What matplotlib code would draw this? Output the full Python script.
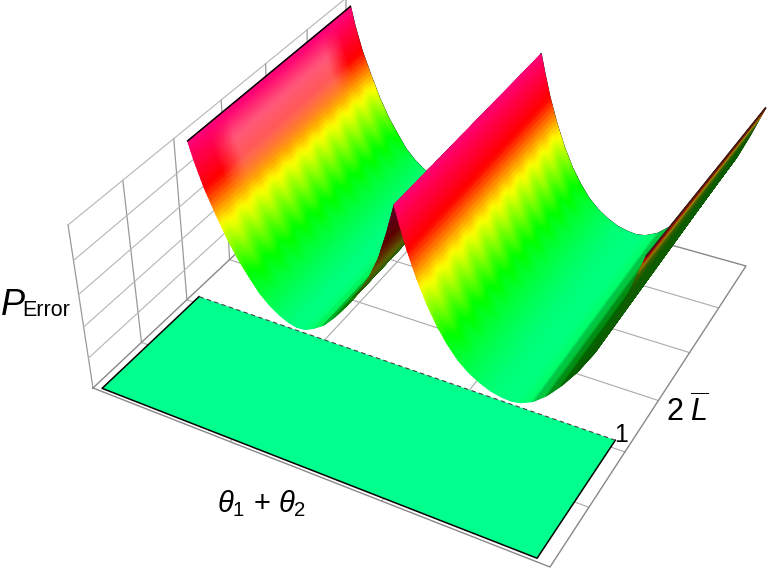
import colorsys

import matplotlib

matplotlib.use("Agg")
import matplotlib.pyplot as plt  # noqa: E402
import numpy as np  # noqa: E402

plt.rcParams["font.family"] = ["Liberation Sans", "DejaVu Sans"]
plt.rcParams["mathtext.fontset"] = "custom"
plt.rcParams["mathtext.rm"] = "Liberation Sans"
plt.rcParams["mathtext.it"] = "Liberation Sans:italic"

# perfil de la superficie: P_error frente a theta (normalizados), en el borde trasero
theta = [0.017, 0.03, 0.05, 0.075, 0.10, 0.125, 0.15, 0.175, 0.20, 0.225, 0.245,
         0.265, 0.285, 0.305, 0.33, 0.355, 0.38, 0.405, 0.43, 0.45, 0.465, 0.478,
         0.49, 0.51, 0.535, 0.56, 0.585, 0.61, 0.635, 0.66, 0.685, 0.71, 0.735,
         0.755, 0.775, 0.80, 0.825, 0.85, 0.875, 0.90, 0.925, 0.94, 0.955]
p_error = [0.97, 0.86, 0.72, 0.58, 0.45, 0.34, 0.25, 0.165, 0.105, 0.06, 0.035,
           0.02, 0.025, 0.05, 0.095, 0.17, 0.26, 0.36, 0.48, 0.62, 0.78, 0.95,
           0.86, 0.72, 0.57, 0.44, 0.33, 0.24, 0.165, 0.11, 0.07, 0.04, 0.025,
           0.02, 0.03, 0.065, 0.13, 0.22, 0.33, 0.47, 0.64, 0.78, 0.94]
ridge_idx = 21

# altura extra de la ultima ladera en el borde delantero
front_theta = [0.90, 0.925, 0.94, 0.955]
front_extra = [0.0, 0.05, 0.08, 0.12]

# la cara oculta de la ultima ladera se ve casi de canto: color comprimido
shade_theta = [0.86, 0.90, 0.94, 0.95, 0.955]
shade_factor = [1.0, 0.60, 0.35, 0.55, 0.80]

# rango de L de la superficie y del rectangulo plano
surf_l = (0.355, 0.99)
flat_theta = (0.017, 0.972)
flat_l = (0.008, 0.355)

# rejilla de la caja
grid_theta = [1 / 3, 2 / 3]
grid_l = [1 / 6, 2 / 6, 3 / 6, 4 / 6, 5 / 6]
wall_l = [0, 1 / 6, 2 / 6, 3 / 6, 4 / 6, 5 / 6, 1]
wall_z = [0.2, 0.4, 0.6, 0.8, 1.0]

# color segun altura (tono en grados)
hue_z = [0.02, 0.25, 0.52, 0.72, 0.97]
hue_deg = [150, 120, 60, 0, -30]

# camara: esquinas del suelo en pixeles y punto de fuga vertical
corners = [(93, 388), (550, 567), (746, 266), (343, 153)]
vanish = (310, 1805)
k_z = -0.1032


def camera():
    (ax_, ay), (bx, by), (cx, cy), (dx, dy) = corners
    sx, sy = ax_ - bx + cx - dx, ay - by + cy - dy
    d1x, d2x, d1y, d2y = bx - cx, dx - cx, by - cy, dy - cy
    den = d1x * d2y - d2x * d1y
    g = (sx * d2y - d2x * sy) / den
    h = (d1x * sy - sx * d1y) / den
    return np.array([
        [bx * (1 + g) - ax_, dx * (1 + h) - ax_, k_z * vanish[0], ax_],
        [by * (1 + g) - ay, dy * (1 + h) - ay, k_z * vanish[1], ay],
        [g, h, k_z, 1.0],
    ])


CAM = camera()


def project(t, l, z=0.0):
    t, l, z = np.broadcast_arrays(t, l, z)
    pts = np.stack([t, l, z, np.ones_like(t, dtype=float)], axis=-1) @ CAM.T
    return pts[..., 0] / pts[..., 2], pts[..., 1] / pts[..., 2]


def lift(t, l):
    return np.interp(t, front_theta, front_extra) * (surf_l[1] - l) / (surf_l[1] - surf_l[0])


def surface_colors(T, L, Z, slope):
    zc = Z * np.interp(T, shade_theta, shade_factor, left=1.0)
    hue = np.interp(zc, hue_z, hue_deg)
    # estrias suaves de la malla en la zona media
    band = np.clip((zc - 0.12) * 6, 0, 1) * np.clip((0.62 - zc) * 6, 0, 1)
    hue = hue + 4 * np.sin(2 * np.pi * 17 * L) * band
    val = np.clip(1 - 0.22 * np.clip(slope - 1.6, 0, None), 0.36, 1)
    val = np.where(T > 0.948, 0.62, val)
    # brillo sobre la primera ladera
    glow = np.clip((zc - 0.58) * 8, 0, 1) * np.clip((0.95 - zc) * 8, 0, 1)
    glow = glow * np.clip((L - 0.42) * 14, 0, 1) * np.clip((0.93 - L) * 14, 0, 1) * (T < 0.2)
    sat = 1 - 0.35 * glow
    rgb = np.zeros(Z.shape + (3,))
    for idx in np.ndindex(Z.shape):
        rgb[idx] = colorsys.hsv_to_rgb((hue[idx] % 360) / 360, sat[idx], val[idx])
    return rgb


def draw_piece(ax, tt, zz, zorder):
    # malla mas fina solo para que el color no salga a bandas
    tf = np.interp(np.linspace(0, tt.size - 1, (tt.size - 1) * 6 + 1), np.arange(tt.size), tt)
    zf = np.interp(tf, tt, zz)
    sf = np.gradient(zf, tf)
    ll = np.linspace(surf_l[0], surf_l[1], 140)
    T, L = np.meshgrid(tf, ll, indexing="ij")
    Z = np.repeat(zf[:, None], ll.size, axis=1) + lift(T, L)
    S = np.repeat(sf[:, None], ll.size, axis=1)
    X, Y = project(T, L, Z)
    ax.pcolormesh(X, Y, surface_colors(T, L, Z, S), shading="gouraud", zorder=zorder)
    bx, by = project(tt, surf_l[1], zz)
    ax.plot(bx, by, color="black", lw=1.1, zorder=zorder - 0.5)


def run():
    fig = plt.figure(figsize=(7.68, 5.69), dpi=100)
    ax = fig.add_axes([0, 0, 1, 1])
    ax.set_xlim(0, 768)
    ax.set_ylim(569, 0)
    ax.axis("off")

    # pared izquierda
    for l in wall_l:
        ax.plot(*project(0, l, np.array([0, 1.0])), color="#999999", lw=0.9, zorder=1)
    for z in wall_z:
        ax.plot(*project(0, np.array([0, 1.0]), z), color="#b5b5b5", lw=0.8, zorder=1)

    # suelo
    for t in grid_theta:
        ax.plot(*project(t, np.array([0, 1.0])), color="#aaaaaa", lw=0.8, zorder=1)
    for l in grid_l:
        ax.plot(*project(np.array([0, 1.0]), l), color="#aaaaaa", lw=0.8, zorder=1)
    ax.plot(*project(np.array([0, 1, 1, 0, 0.0]), np.array([0, 0, 1, 1, 0.0])),
            color="#888888", lw=1.0, zorder=1.2)

    # rectangulo plano
    t0, t1 = flat_theta
    l0, l1 = flat_l
    rx, ry = project(np.array([t0, t1, t1, t0]), np.array([l0, l0, l1, l1]))
    ax.fill(rx, ry, color="#00ff8c", lw=0, zorder=2)
    ax.plot(rx[[3, 0, 1, 2]], ry[[3, 0, 1, 2]], color="black", lw=1.1, zorder=2.2)
    ax.plot(rx[[2, 3]], ry[[2, 3]], color="#444444", lw=0.8, ls=(0, (4, 3)), zorder=2.2)

    # superficie, de atras hacia adelante
    tt = np.array(theta)
    zz = np.array(p_error)
    draw_piece(ax, tt[:ridge_idx + 1], zz[:ridge_idx + 1], 4)
    ex, ey = project(theta[0], np.array(surf_l), p_error[0])
    ax.plot(ex, ey, color="black", lw=1.1, zorder=4.2)
    draw_piece(ax, tt[ridge_idx:], zz[ridge_idx:], 6)
    el = np.array(surf_l)
    ex, ey = project(np.full(2, theta[-1]), el, p_error[-1] + lift(np.full(2, theta[-1]), el))
    ax.plot(ex, ey, color="#3a1a10", lw=1.2, zorder=6.2)

    # textos
    ax.text(1, 305, "P", style="italic", fontsize=26, ha="left", va="center")
    ax.text(22, 310, "Error", fontsize=15.5, ha="left", va="center")
    ax.text(217, 504, r"$\theta_1$ + $\theta_2$", fontsize=21, ha="left", va="center")
    ax.text(621, 435, "1", fontsize=18, ha="center", va="center")
    ax.text(666, 412, "2", fontsize=22, ha="left", va="center")
    ax.text(690, 412, r"$\overline{L}$", fontsize=22, ha="left", va="center")

    fig.savefig("out.png", dpi=100)


if __name__ == "__main__":
    run()
